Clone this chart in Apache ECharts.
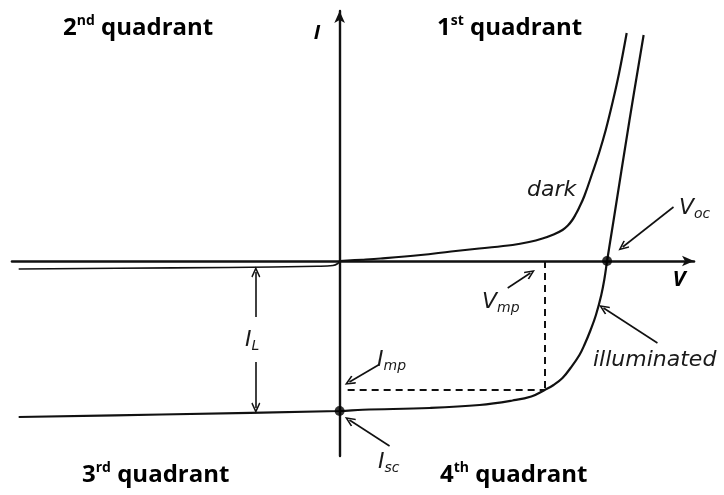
<!DOCTYPE html>
<html>
<head>
<meta charset="utf-8">
<script src="https://cdn.jsdelivr.net/npm/echarts@6/dist/echarts.min.js"></script>
<style>
  html, body { margin: 0; padding: 0; background: #ffffff; }
  #chart { width: 724px; height: 495px; }
</style>
</head>
<body>
<div id="chart"></div>
<script>
// I–V characteristic of a solar cell, in arbitrary units (V along x, I along y).

// Key operating points
const voc = 0.6;    // open-circuit voltage
const isc = -3.0;   // short-circuit current
const vmp = 0.46;   // voltage at maximum power
const imp = -2.58;  // current at maximum power

// Dark curve, reverse bias (x <= 0)
const darkReverse = [
  [-0.72, -0.16], [-0.5, -0.145], [-0.25, -0.13], [-0.05, -0.105],
  [-0.015, -0.09], [-0.004, -0.05], [0, 0]
];

// Dark curve, forward bias (x >= 0)
const darkForward = [
  [0, 0], [0.05, 0.025], [0.092, 0.05], [0.182, 0.12], [0.25, 0.19],
  [0.313, 0.25], [0.388, 0.32], [0.425, 0.38], [0.455, 0.45], [0.48, 0.53],
  [0.5, 0.62], [0.512, 0.71], [0.522, 0.82], [0.53, 0.94], [0.537, 1.06],
  [0.549, 1.30], [0.567, 1.76], [0.582, 2.16], [0.597, 2.62], [0.612, 3.16],
  [0.627, 3.76], [0.644, 4.56]
];

// Illuminated curve
const illuminated = [
  [-0.72, -3.12], [-0.4, -3.07], [0, isc], [0.052, -2.975], [0.202, -2.94],
  [0.314, -2.88], [0.388, -2.79], [0.43, -2.71], [vmp, imp], [0.48, -2.48],
  [0.5, -2.34], [0.518, -2.14], [0.538, -1.88], [0.55, -1.66], [0.563, -1.38],
  [0.575, -1.08], [0.587, -0.68], [0.594, -0.36], [voc, 0], [0.614, 0.78],
  [0.65, 2.8], [0.682, 4.52]
];

// Marked points on the illuminated curve
const keyPoints = [[voc, 0], [0, isc]];

// Quadrant titles
const quadrantTitles = [
  { num: '2', sup: 'nd' }, { num: '1', sup: 'st' },
  { num: '3', sup: 'rd' }, { num: '4', sup: 'th' }
];

const INK = '#111111';
const chevron = 'path://M5,0 L10,8.4 L8.7,9.3 L5,3.1 L1.3,9.3 L0,8.4 Z';

function arrow(from, to) {
  return [
    { coord: from, symbol: 'none' },
    { coord: to, symbol: chevron, symbolSize: [9, 11] }
  ];
}

const chart = echarts.init(document.getElementById('chart'), null, { renderer: 'canvas' });

const italicFont = '"DejaVu Sans", sans-serif';
const boldFont = '"Open Sans", sans-serif';

function quadrantLabel(q, x, y) {
  return {
    type: 'text', x: x, y: y,
    style: {
      text: '{b|' + q.num + '}{s|' + q.sup + '}{b| quadrant}',
      verticalAlign: 'middle', align: 'left',
      rich: {
        b: { fontFamily: boldFont, fontWeight: 'bold', fontSize: 24, lineHeight: 28, fill: '#000' },
        s: { fontFamily: boldFont, fontWeight: 'bold', fontSize: 14, lineHeight: 14, verticalAlign: 'top', fill: '#000' }
      }
    }
  };
}

function symLabel(main, sub, x, y) {
  return {
    type: 'text', x: x, y: y,
    style: {
      text: '{m|' + main + '}' + (sub ? '{s|' + sub + '}' : ''),
      verticalAlign: 'middle', align: 'left',
      rich: {
        m: { fontFamily: italicFont, fontStyle: 'italic', fontSize: 22, lineHeight: 26, fill: '#1a1a1a' },
        s: { fontFamily: italicFont, fontStyle: 'italic', fontSize: 14, lineHeight: 16, verticalAlign: 'bottom', fill: '#1a1a1a' }
      }
    }
  };
}

const option = {
  animation: false,
  backgroundColor: '#ffffff',
  grid: { left: 12, right: 30, top: 11, bottom: 39, containLabel: false },
  xAxis: {
    type: 'value', min: -0.735, max: 0.795,
    axisLine: { show: true, onZero: true, symbol: ['none', 'arrow'], symbolSize: [8, 12],
                lineStyle: { color: INK, width: 2.6 } },
    axisTick: { show: false }, axisLabel: { show: false }, splitLine: { show: false }
  },
  yAxis: {
    type: 'value', min: -3.9, max: 5.0,
    axisLine: { show: true, onZero: true, symbol: ['none', 'arrow'], symbolSize: [8, 12],
                lineStyle: { color: INK, width: 2.4 } },
    axisTick: { show: false }, axisLabel: { show: false }, splitLine: { show: false }
  },
  series: [
    {
      name: 'dark (reverse)', type: 'line', data: darkReverse, smooth: 0.4,
      showSymbol: false, lineStyle: { color: INK, width: 1.6 }, z: 3
    },
    {
      name: 'dark', type: 'line', data: darkForward, smooth: 0.4,
      showSymbol: false, lineStyle: { color: INK, width: 2.2 }, z: 3
    },
    {
      name: 'illuminated', type: 'line', data: illuminated, smooth: 0.4,
      showSymbol: false, lineStyle: { color: INK, width: 2.2 }, z: 3
    },
    {
      name: 'points', type: 'scatter', data: keyPoints, symbolSize: 10,
      itemStyle: { color: '#000' }, z: 5
    },
    {
      name: 'annotations', type: 'line', data: [], z: 4,
      markLine: {
        silent: true, animation: false,
        label: { show: false },
        lineStyle: { color: INK, width: 1.6, type: 'solid' },
        symbol: ['none', 'none'],
        data: [
          // maximum-power rectangle
          [{ coord: [vmp, 0], lineStyle: { type: [7, 5], width: 2 } }, { coord: [vmp, imp] }],
          [{ coord: [0.018, imp], lineStyle: { type: [7, 5], width: 2 } }, { coord: [vmp, imp] }],
          // pointer arrows
          arrow([0.749, 1.08], [0.635, 0.28]),
          arrow([0.377, -0.54], [0.428, -0.24]),
          arrow([0.713, -1.64], [0.592, -0.94]),
          arrow([0.087, -2.08], [0.022, -2.42]),
          arrow([0.112, -3.70], [0.022, -3.18]),
          arrow([-0.188, -1.12], [-0.188, -0.22]),
          arrow([-0.188, -2.02], [-0.188, -2.94])
        ]
      }
    }
  ],
  graphic: [
    quadrantLabel(quadrantTitles[0], 63, 28),
    quadrantLabel(quadrantTitles[1], 437, 28),
    quadrantLabel(quadrantTitles[2], 82, 475),
    quadrantLabel(quadrantTitles[3], 440, 475),
    { type: 'text', x: 317, y: 33, style: { text: 'I', align: 'center', verticalAlign: 'middle',
      font: 'italic bold 20px "Open Sans", sans-serif', fill: '#000' } },
    { type: 'text', x: 679, y: 280, style: { text: 'V', align: 'center', verticalAlign: 'middle',
      font: 'italic bold 22px "Open Sans", sans-serif', fill: '#000' } },
    symLabel('dark', '', 527, 190),
    symLabel('V', 'oc', 679, 208),
    symLabel('V', 'mp', 482, 302),
    symLabel('illuminated', '', 593, 360),
    symLabel('I', 'mp', 377, 360),
    symLabel('I', 'L', 245, 340),
    symLabel('I', 'sc', 378, 462)
  ]
};

chart.setOption(option);
</script>
</body>
</html>
